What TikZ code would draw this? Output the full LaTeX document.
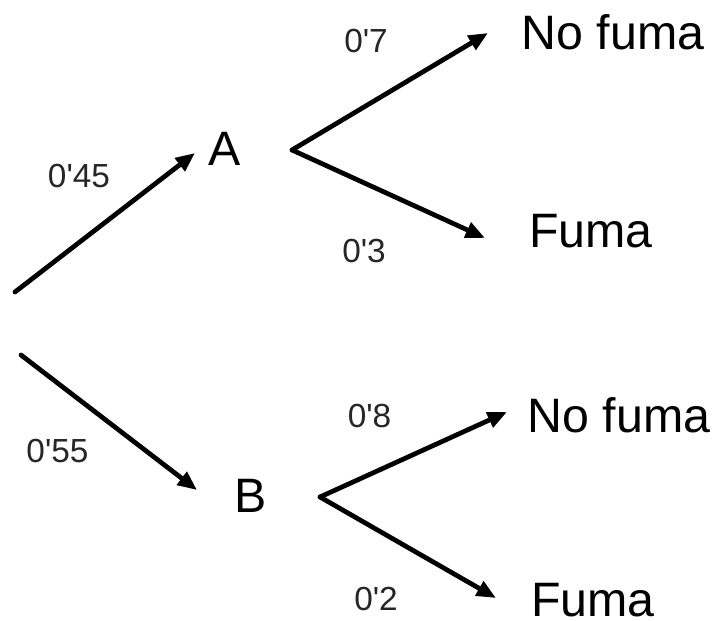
\documentclass[tikz,border=0pt]{standalone}
\usepackage{fontspec}
\setmainfont{Liberation Sans}
\usetikzlibrary{arrows.meta}
\newcommand{\ap}{\textquotesingle}
\begin{document}
\begin{tikzpicture}[x=0.02cm,y=-0.02cm,
  arr/.style={line width=2.7pt,line cap=round,-{Triangle[length=11pt,width=9pt]}},
  big/.style={inner sep=0pt,anchor=base,font=\fontsize{27.5}{30}\selectfont},
  prob/.style={inner sep=0pt,anchor=base,font=\fontsize{19}{22}\selectfont,text=black!85}]
\useasboundingbox (0,0) rectangle (713,621);
% coordinates
\coordinate (r1) at (15,292);
\coordinate (r2) at (21,355);
\coordinate (tA) at (195,153);
\coordinate (tB) at (197,490);
\coordinate (sA) at (292,150);
\coordinate (sB) at (320,497);
\coordinate (tAn) at (488,33);
\coordinate (tAf) at (485,238);
\coordinate (tBn) at (507,412);
\coordinate (tBf) at (496,598);
% labels
\node[big] (A) at (224.5,166) {A};
\node[big] (B) at (251,512) {B};
\node[big] (An) at (613,50) {No fuma};
\node[big] (Af) at (591,248) {Fuma};
\node[big] (Bn) at (619,432) {No fuma};
\node[big] (Bf) at (593,616) {Fuma};
\node[prob] (p45) at (79,188) {0\ap45};
\node[prob] (p55) at (57.5,462) {0\ap55};
\node[prob] (p7) at (366,53) {0\ap7};
\node[prob] (p3) at (364,263) {0\ap3};
\node[prob] (p8) at (369.5,427) {0\ap8};
\node[prob] (p2) at (376,610) {0\ap2};
% arrows
\draw[arr] (r1) -- (tA);
\draw[arr] (r2) -- (tB);
\draw[arr] (sA) -- (tAn);
\draw[arr] (sA) -- (tAf);
\draw[arr] (sB) -- (tBn);
\draw[arr] (sB) -- (tBf);
\end{tikzpicture}
\end{document}
